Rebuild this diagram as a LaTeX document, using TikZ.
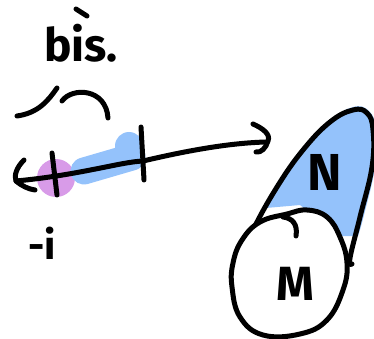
\documentclass[tikz,border=0pt]{standalone}
\usepackage{fontspec}
\setmainfont{Fira Sans}
\definecolor{hlblue}{HTML}{94C2FB}
\definecolor{hlpurple}{HTML}{D89BE8}
\tikzset{
  pen/.style={line width=5pt, line cap=round, line join=round, black},
  hand/.style={inner sep=0pt, font=#1},
}
\begin{document}
\begin{tikzpicture}[x=1pt,y=-1pt]
\useasboundingbox (0,0) rectangle (374,339);
% highlights
\fill[hlpurple] (56,178) circle (19);
\draw[hlblue, line width=27pt, line cap=round] (84,171) -- (132,157);
\fill[hlblue] (129,146) circle (14);
% blue part of the big outline
\fill[hlblue] plot[smooth, tension=0.7] coordinates {(266,208) (277,187) (303,150) (330,121) (353,107) (369,111) (376,130) (375,167) (364,215) (358,236)} -- (340,236) -- (300,205) -- cycle;
% top text and strokes
\node[hand={\fontsize{46}{46}\selectfont\bfseries}] (bis) at (81,43) {bis.};
\draw[pen] (76,9) -- (87,16);
\coordinate (c1a) at (17,116);
\coordinate (c1b) at (57,88);
\draw[pen] (c1a) .. controls (38,113) and (48,101) .. (c1b);
\coordinate (c2a) at (62,101);
\coordinate (c2b) at (108,118);
\draw[pen] (c2a) .. controls (72,87) and (106,88) .. (c2b);
% number line
\coordinate (lt) at (16,181);
\coordinate (rt) at (266,142);
\draw[pen] (lt) .. controls (80,175) and (120,162) .. (143,161) .. controls (190,150) and (230,143) .. (rt);
\draw[pen] (24,160) .. controls (16,168) and (14,176) .. (lt) .. controls (22,186) and (28,189) .. (35,190);
\draw[pen] (253,124) .. controls (262,128) and (271,134) .. (268,141) .. controls (266,148) and (261,153) .. (256,152);
\draw[pen] (52,153) -- (57,195);
\draw[pen] (141,127) -- (144,180);
\node[hand={\fontsize{40}{40}\selectfont\bfseries}] (mi) at (42,243) {-i};
% big outline
\draw[pen] plot[smooth, tension=0.7] coordinates {(240,262) (253,230) (277,187) (303,150) (330,122) (353,110) (367,113) (373,130) (372,167) (360,217) (350,258) (352,264)};
% M circle
\draw[pen, fill=white] plot[smooth cycle, tension=0.7] coordinates {(242,240) (260,222) (287,214) (307,210) (327,217) (340,237) (347,263) (343,290) (327,320) (300,334) (263,335) (240,317) (232,287) (233,263)};
\draw[pen] (283,217) .. controls (292,218) and (298,224) .. (296,236);
\node[hand={\fontsize{52}{52}\selectfont\bfseries}] (N) at (325,172) {N};
\node[hand={\fontsize{48}{48}\selectfont\bfseries}] (M) at (295,284) {M};
\end{tikzpicture}
\end{document}
